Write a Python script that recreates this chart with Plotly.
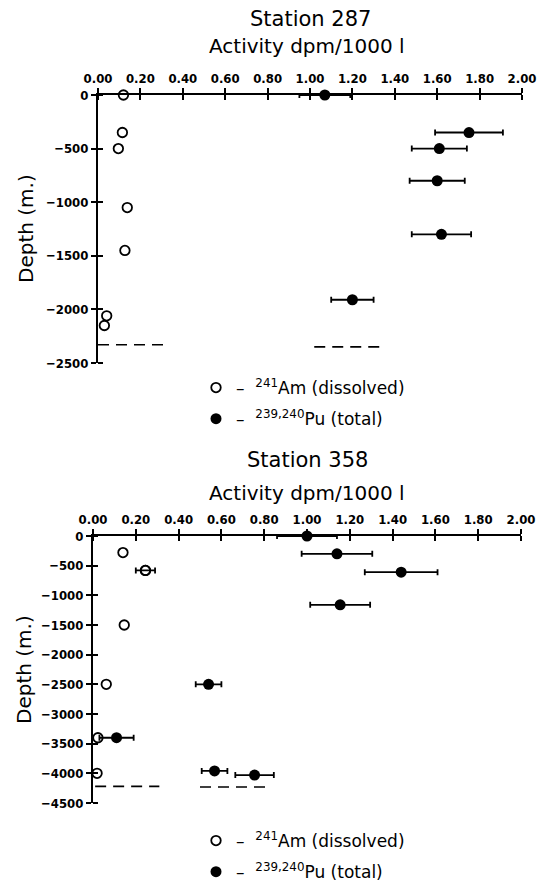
import plotly.graph_objects as go

# ---------------- Data ----------------
# Station 287
am287_activity = [0.12, 0.115, 0.096, 0.138, 0.127, 0.041, 0.03]
am287_depth = [0, -350, -500, -1050, -1450, -2060, -2150]
pu287_activity = [1.07, 1.75, 1.61, 1.60, 1.62, 1.20]
pu287_depth = [0, -350, -500, -800, -1300, -1910]
pu287_error = [0.12, 0.16, 0.13, 0.13, 0.14, 0.10]
bottom287_am_x = [0.0, 0.31]
bottom287_am_depth = [-2330, -2330]
bottom287_pu_x = [1.02, 1.33]
bottom287_pu_depth = [-2350, -2350]

# Station 358
am358_activity = [0.14, 0.245, 0.146, 0.062, 0.023, 0.019]
am358_depth = [-280, -580, -1500, -2500, -3400, -4000]
am358_error = [None, 0.045, None, None, None, None]
pu358_activity = [1.00, 1.14, 1.44, 1.155, 0.54, 0.11, 0.568, 0.755]
pu358_depth = [0, -300, -610, -1160, -2500, -3400, -3960, -4030]
pu358_error = [0.14, 0.165, 0.17, 0.14, 0.06, 0.08, 0.06, 0.09]
bottom358_am_x = [0.01, 0.31]
bottom358_am_depth = [-4220, -4220]
bottom358_pu_x = [0.50, 0.81]
bottom358_pu_depth = [-4230, -4230]

x_tickvals = [0.0, 0.2, 0.4, 0.6, 0.8, 1.0, 1.2, 1.4, 1.6, 1.8, 2.0]
y287_tickvals = [0, -500, -1000, -1500, -2000, -2500]
y358_tickvals = [0, -500, -1000, -1500, -2000, -2500, -3000, -3500, -4000, -4500]

AM_LABEL = "–  <sup>241</sup>Am (dissolved)"
PU_LABEL = "–  <sup>239,240</sup>Pu (total)"

FONT = "DejaVu Sans"
TICK_FONT = "DejaVu Sans Condensed, DejaVu Sans"
W, H = 539, 886

fig = go.Figure()

open_marker = dict(symbol="circle-open", size=9.5, color="black", line=dict(width=1.8, color="black"))
filled_marker = dict(symbol="circle", size=11, color="black")
err_style = dict(type="data", color="black", thickness=1.8, width=3)
dash_line = dict(color="black", width=1.6, dash="11px,7px")

# ---- Station 287 (x, y) ----
fig.add_trace(go.Scatter(x=am287_activity, y=am287_depth, mode="markers", marker=open_marker,
                         name=AM_LABEL, legend="legend", legendgroup="am287",
                         xaxis="x", yaxis="y", cliponaxis=False))
fig.add_trace(go.Scatter(x=pu287_activity, y=pu287_depth, mode="markers", marker=filled_marker,
                         error_x=dict(array=pu287_error, **err_style),
                         name=PU_LABEL, legend="legend", legendgroup="pu287",
                         xaxis="x", yaxis="y", cliponaxis=False))
for bx, by in [(bottom287_am_x, bottom287_am_depth), (bottom287_pu_x, bottom287_pu_depth)]:
    fig.add_trace(go.Scatter(x=bx, y=by, mode="lines", line=dash_line,
                             showlegend=False, xaxis="x", yaxis="y", cliponaxis=False))

# ---- Station 358 (x2, y2) ----
fig.add_trace(go.Scatter(x=am358_activity, y=am358_depth, mode="markers", marker=open_marker,
                         name=AM_LABEL, legend="legend2", legendgroup="am358",
                         xaxis="x2", yaxis="y2", cliponaxis=False))
# error bars only for the Am points that have them
err_idx = [i for i, e in enumerate(am358_error) if e is not None]
fig.add_trace(go.Scatter(x=[am358_activity[i] for i in err_idx],
                         y=[am358_depth[i] for i in err_idx],
                         mode="markers", marker=open_marker,
                         error_x=dict(array=[am358_error[i] for i in err_idx], **err_style),
                         showlegend=False, legendgroup="am358",
                         xaxis="x2", yaxis="y2", cliponaxis=False))
fig.add_trace(go.Scatter(x=pu358_activity, y=pu358_depth, mode="markers", marker=filled_marker,
                         error_x=dict(array=pu358_error, **err_style),
                         name=PU_LABEL, legend="legend2", legendgroup="pu358",
                         xaxis="x2", yaxis="y2", cliponaxis=False))
for bx, by in [(bottom358_am_x, bottom358_am_depth), (bottom358_pu_x, bottom358_pu_depth)]:
    fig.add_trace(go.Scatter(x=bx, y=by, mode="lines", line=dash_line,
                             showlegend=False, xaxis="x2", yaxis="y2", cliponaxis=False))

tickfont = dict(family=TICK_FONT, size=13, color="black", weight="bold")

def xaxis(domain, anchor):
    return dict(domain=domain, anchor=anchor, side="top", range=[0, 2], tickvals=x_tickvals,
                tickformat=".2f", showline=True, linecolor="black", linewidth=2, showgrid=False,
                zeroline=False, ticks="outside", ticklen=5, tickwidth=1.5, tickcolor="black",
                minor=dict(tickvals=[v + 1e-6 for v in x_tickvals], ticks="inside", ticklen=5,
                           tickwidth=1.5, tickcolor="black", showgrid=False),
                tickfont=tickfont, fixedrange=True, automargin=False)

def yaxis(domain, anchor, rng, tv):
    return dict(domain=domain, anchor=anchor, range=rng, tickvals=tv,
                showline=True, linecolor="black", linewidth=2, showgrid=False,
                zeroline=False, ticks="outside", ticklen=5, tickwidth=1.5, tickcolor="black",
                minor=dict(tickvals=[v + 1e-3 for v in tv], ticks="inside", ticklen=5,
                           tickwidth=1.5, tickcolor="black", showgrid=False),
                tickfont=tickfont, fixedrange=True, automargin=False)

top_x = [98 / W, 522 / W]
top_y = [1 - 363 / H, 1 - 95 / H]
bot_x = [93 / W, 521 / W]
bot_y = [1 - 803 / H, 1 - 536 / H]

legend_font = dict(family=FONT, size=17, color="black")

fig.update_layout(
    width=W, height=H,
    margin=dict(l=0, r=0, t=0, b=0, autoexpand=False),
    paper_bgcolor="white", plot_bgcolor="white",
    font=dict(family=FONT, color="black"),
    xaxis=xaxis(top_x, "y"),
    yaxis=yaxis(top_y, "x", [-2500, 0], y287_tickvals),
    xaxis2=xaxis(bot_x, "y2"),
    yaxis2=yaxis(bot_y, "x2", [-4500, 0], y358_tickvals),
    legend=dict(x=196 / W, y=1 - 370 / H, xanchor="left", yanchor="top",
                font=legend_font, bgcolor="rgba(0,0,0,0)",
                itemwidth=30, tracegroupgap=6),
    legend2=dict(x=196 / W, y=1 - 823 / H, xanchor="left", yanchor="top",
                 font=legend_font, bgcolor="rgba(0,0,0,0)",
                 itemwidth=30, tracegroupgap=6),
    showlegend=True,
)

def ann(text, x, y, size, angle=0):
    fig.add_annotation(text=text, x=x / W, y=1 - y / H, xref="paper", yref="paper",
                       showarrow=False, textangle=angle, xanchor="center", yanchor="middle",
                       font=dict(family=FONT, size=size, color="black"))

ann("Station 287", 310, 19, 21)
ann("Activity dpm/1000 l", 307, 46, 20)
ann("Depth (m.)", 26, 229, 20, -90)
ann("Station 358", 307, 460, 21)
ann("Activity dpm/1000 l", 307, 493, 20)
ann("Depth (m.)", 24, 670, 20, -90)

fig.write_html("out.html", config={"displayModeBar": False},
               post_script="document.body.style.margin='0px';")
